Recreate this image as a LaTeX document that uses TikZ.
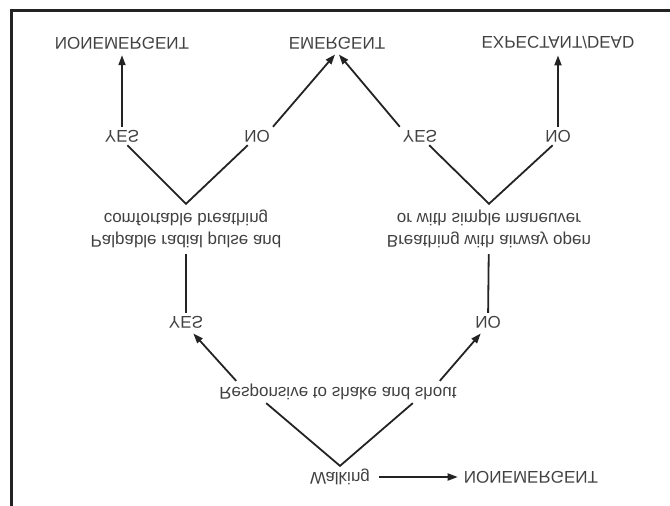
\documentclass[tikz,border=0pt]{standalone}
\usepackage{fontspec}
\setmainfont{Liberation Sans}
\usetikzlibrary{arrows.meta}
\definecolor{ink}{RGB}{35,35,35}
\definecolor{txt}{RGB}{65,65,65}
\newcommand{\flipped}[1]{\scalebox{1}[-1]{#1}}
\newcommand{\flippedtwo}[2]{\scalebox{1}[-1]{\begin{tabular}{@{}c@{}}#1\\#2\end{tabular}}}
\tikzset{
	lbl/.style={font=\fontsize{17}{22}\selectfont, text=txt, inner sep=3pt},
	ln/.style={line width=1.8pt, draw=ink},
	arr/.style={ln, -{Triangle[length=10pt,width=7pt]}, shorten >=3pt},
}

\begin{document}
\begin{tikzpicture}[x=1pt,y=-1pt]
			%%%%% START %%%%%
			\useasboundingbox (0,0) rectangle (670,506);
			\draw[line width=3pt, ink] (11,515) -- (11,10) -- (680,10);
			
			% top row
			\node[lbl] (nonemA) at (122,43) {\flipped{NONEMERGENT}};
			\node[lbl] (emerg) at (337,43) {\flipped{EMERGENT}};
			\node[lbl] (expect) at (558,43) {\flipped{EXPECTANT/DEAD}};
			
			\node[lbl] (yesA) at (122,136) {\flipped{YES}};
			\node[lbl] (noA) at (257,136) {\flipped{NO}};
			\node[lbl] (yesB) at (420,136) {\flipped{YES}};
			\node[lbl] (noB) at (558,136) {\flipped{NO}};
			
			\node[lbl] (pulse) at (186,229) {\flippedtwo{Palpable radial pulse and}{comfortable breathing}};
			\node[lbl] (breath) at (489,229) {\flippedtwo{Breathing with airway open}{or with simple maneuver}};
			
			\node[lbl] (yesC) at (186,322) {\flipped{YES}};
			\node[lbl] (noC) at (488,322) {\flipped{NO}};
			
			\node[lbl] (resp) at (338,392) {\flipped{Responsive to shake and shout}};
			
			\node[lbl] (walk) at (340,477) {\flipped{Walking}};
			\node[lbl] (nonemB) at (531,477) {\flipped{NONEMERGENT}};
			
			% arrows to the top row
			\draw[arr] (yesA) -- (nonemA);
			\draw[arr] (noA.north east) -- (emerg.south);
			\draw[arr] (yesB.north west) -- (emerg.south);
			\draw[arr] (noB) -- (expect);
			
			\draw[ln] (yesA.-60) -- (pulse.north) -- (noA.-135);
			\draw[ln] (yesB.-45) -- (breath.north) -- (noB.-120);
			
			\draw[ln] (pulse) -- (yesC);
			\draw[ln] (breath) -- (noC);
			
			\draw[arr] ([xshift=20pt]resp.north west) -- (yesC.-60);
			\draw[arr] ([xshift=-20pt]resp.north east) -- (noC.-120);
			
			\draw[ln] ([xshift=50pt]resp.south west) -- (walk.north) -- ([xshift=-47pt]resp.south east);
			\draw[arr, shorten <=6pt] (walk) -- (nonemB);
			%%%%% END %%%%%
\end{tikzpicture}
\end{document}
